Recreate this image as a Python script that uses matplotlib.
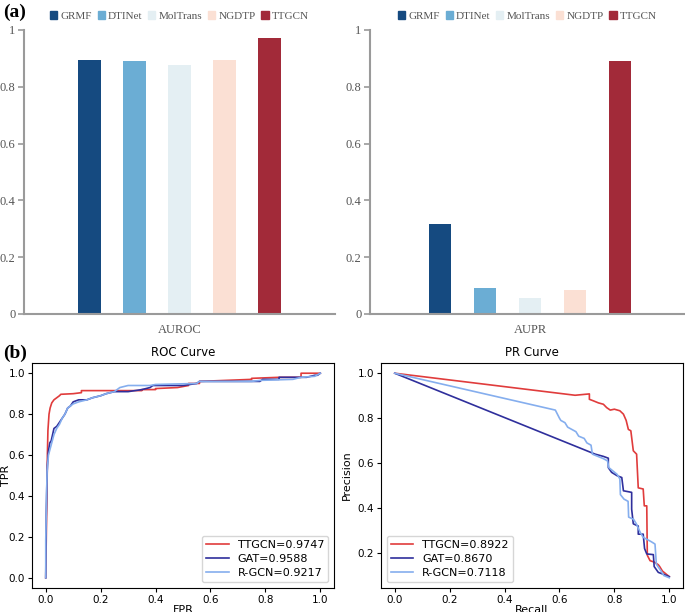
import numpy as np
import matplotlib
matplotlib.use('Agg')
import matplotlib.pyplot as plt
from matplotlib.patches import Patch

# --- data ---
methods = ['GRMF', 'DTINet', 'MolTrans', 'NGDTP', 'TTGCN']
bar_colors = ['#154a80', '#6badd4', '#e4eff3', '#fbe0d4', '#a22a39']
auroc = [0.894, 0.892, 0.878, 0.896, 0.972]
aupr = [0.318, 0.093, 0.057, 0.083, 0.890]

# ROC curves
ttgcn_fpr = [0, 0.003, 0.005, 0.006, 0.008, 0.012, 0.016, 0.022, 0.03, 0.04, 0.05, 0.055, 0.10,
             0.13, 0.13, 0.35, 0.35, 0.40, 0.40, 0.48, 0.52, 0.52, 0.56, 0.56, 0.75, 0.75, 0.85,
             0.93, 0.93, 1.0]
ttgcn_tpr = [0, 0.29, 0.45, 0.60, 0.72, 0.80, 0.83, 0.855, 0.87, 0.88, 0.89, 0.897, 0.90,
             0.905, 0.915, 0.915, 0.92, 0.92, 0.925, 0.93, 0.94, 0.95, 0.95, 0.96, 0.97, 0.975, 0.98,
             0.98, 1.0, 1.0]
gat_fpr = [0, 0.002, 0.004, 0.006, 0.01, 0.015, 0.02, 0.025, 0.03, 0.04, 0.05, 0.06, 0.07, 0.08,
           0.09, 0.10, 0.12, 0.15, 0.17, 0.20, 0.22, 0.25, 0.30, 0.35, 0.38, 0.39, 0.50, 0.55, 0.56,
           0.78, 0.79, 0.85, 0.85, 0.95, 0.98, 0.99, 1.0]
gat_tpr = [0, 0.30, 0.45, 0.55, 0.62, 0.66, 0.67, 0.70, 0.73, 0.74, 0.76, 0.78, 0.80, 0.83,
           0.84, 0.86, 0.87, 0.87, 0.88, 0.89, 0.90, 0.91, 0.91, 0.92, 0.93, 0.94, 0.94, 0.95, 0.96,
           0.96, 0.97, 0.97, 0.98, 0.98, 0.99, 0.99, 1.0]
rgcn_fpr = [0, 0, 0.003, 0.005, 0.01, 0.02, 0.03, 0.04, 0.05, 0.06, 0.07, 0.08, 0.10, 0.12,
            0.15, 0.17, 0.20, 0.22, 0.25, 0.27, 0.30, 0.38, 0.40, 0.55, 0.56, 0.75, 0.78, 0.90,
            0.93, 0.98, 1.0]
rgcn_tpr = [0, 0.18, 0.40, 0.52, 0.60, 0.65, 0.70, 0.73, 0.75, 0.78, 0.80, 0.83, 0.85, 0.86,
            0.87, 0.88, 0.89, 0.90, 0.91, 0.93, 0.94, 0.94, 0.945, 0.95, 0.96, 0.96, 0.965, 0.97,
            0.98, 0.985, 1.0]

# PR curves
ttgcn_rec = [0, 0.657, 0.709, 0.709, 0.724, 0.742, 0.76, 0.772, 0.785, 0.80, 0.82, 0.833, 0.843,
             0.851, 0.86, 0.869, 0.881, 0.887, 0.905, 0.909, 0.918, 0.92, 0.93, 0.945, 0.96, 0.965,
             0.975, 0.99, 1.0]
ttgcn_prec = [1.0, 0.902, 0.908, 0.884, 0.877, 0.868, 0.862, 0.847, 0.836, 0.84, 0.833, 0.818, 0.79,
              0.75, 0.744, 0.655, 0.64, 0.49, 0.485, 0.41, 0.41, 0.19, 0.166, 0.16, 0.148, 0.14,
              0.12, 0.105, 0.095]
gat_rec = [0, 0.73, 0.76, 0.778, 0.778, 0.79, 0.81, 0.827, 0.833, 0.863, 0.863, 0.869, 0.887,
           0.887, 0.905, 0.91, 0.918, 0.942, 0.945, 0.96, 0.98, 1.0]
gat_prec = [1.0, 0.64, 0.63, 0.622, 0.58, 0.559, 0.544, 0.536, 0.477, 0.47, 0.395, 0.33, 0.32,
            0.284, 0.284, 0.22, 0.196, 0.193, 0.14, 0.114, 0.105, 0.095]
rgcn_rec = [0, 0.585, 0.60, 0.605, 0.62, 0.63, 0.645, 0.66, 0.67, 0.69, 0.70, 0.715, 0.72, 0.74,
            0.76, 0.775, 0.78, 0.80, 0.81, 0.82, 0.822, 0.835, 0.85, 0.852, 0.87, 0.88, 0.895,
            0.905, 0.92, 0.935, 0.948, 0.953, 0.97, 0.98, 1.0]
rgcn_prec = [1.0, 0.836, 0.80, 0.79, 0.78, 0.76, 0.75, 0.74, 0.72, 0.71, 0.69, 0.68, 0.64, 0.63,
             0.62, 0.61, 0.58, 0.56, 0.55, 0.53, 0.46, 0.44, 0.43, 0.36, 0.35, 0.33, 0.29,
             0.27, 0.26, 0.25, 0.24, 0.15, 0.12, 0.10, 0.09]

roc_labels = ['TTGCN=0.9747', 'GAT=0.9588', 'R-GCN=0.9217']
pr_labels = ['TTGCN=0.8922', 'GAT=0.8670', 'R-GCN=0.7118']
line_colors = ['#e03c3c', '#2f2f9c', '#85aeee']

W, H = 685, 612
fig = plt.figure(figsize=(W / 100, H / 100), dpi=100)


def px_axes(x0, y0, x1, y1):
    # pixel box (top-left origin) -> figure axes
    return fig.add_axes([x0 / W, 1 - y1 / H, (x1 - x0) / W, (y1 - y0) / H])


serif = ['Liberation Serif', 'DejaVu Serif']
gray = '#555555'
spine_gray = '#9a9a9a'
step = 0.2
bw = 0.098
offsets = [(i - 2) * step for i in range(5)]


def bar_panel(ax, vals, name, xlim, anchor_x):
    for off, v, c in zip(offsets, vals, bar_colors):
        ax.bar(off, v, width=bw, color=c)
    ax.set_xlim(*xlim)
    ax.set_ylim(0, 1)
    ax.set_xticks([0])
    ax.set_xticklabels([name], fontfamily=serif, fontsize=9, color=gray)
    ax.tick_params(axis='x', length=0, pad=7)
    ax.set_yticks([0, 0.2, 0.4, 0.6, 0.8, 1])
    ax.set_yticklabels(['0', '0.2', '0.4', '0.6', '0.8', '1'], fontfamily=serif,
                       fontsize=9, color=gray)
    ax.tick_params(axis='y', length=4, width=1.2, color=spine_gray, pad=2)
    for s in ['top', 'right']:
        ax.spines[s].set_visible(False)
    for s in ['left', 'bottom']:
        ax.spines[s].set_color(spine_gray)
        ax.spines[s].set_linewidth(1.5)
    handles = [Patch(color=c, label=m) for m, c in zip(methods, bar_colors)]
    leg = ax.legend(handles=handles, ncol=5, frameon=False, loc='lower center',
                    bbox_to_anchor=(anchor_x, 1.005), prop={'family': serif, 'size': 8},
                    handlelength=0.65, handleheight=0.65, handletextpad=0.3,
                    columnspacing=0.5, borderaxespad=0.3)
    for t in leg.get_texts():
        t.set_color(gray)


ax1 = px_axes(24, 30, 335, 314)
half = 155.5 / 45 * step
bar_panel(ax1, auroc, 'AUROC', (-half, half), 0.5)

ax2 = px_axes(370, 30, 685, 314)
bar_panel(ax2, aupr, 'AUPR', (-160 / 45 * step, 155 / 45 * step), 0.5)

fig.text(3 / W, 1 - 12 / H, '(a)', fontfamily=serif, fontweight='bold', fontsize=14, va='center')
fig.text(3 / W, 1 - 353 / H, '(b)', fontfamily=serif, fontweight='bold', fontsize=14, va='center')


def curve_panel(ax, curves, labels, title, xlabel, ylabel, loc):
    for (x, y), lab, c in zip(curves, labels, line_colors):
        ax.plot(x, y, color=c, lw=1.2, label=lab)
    ax.set_title(title, fontsize=8.5, pad=5)
    ax.set_xlabel(xlabel, fontsize=8, labelpad=0)
    ax.set_ylabel(ylabel, fontsize=8)
    ax.tick_params(labelsize=7.5, length=3, pad=2)
    ax.legend(loc=loc, fontsize=8, handlelength=2.0, labelspacing=0.35, borderpad=0.4)


ax3 = px_axes(32, 363, 334, 588)
curve_panel(ax3, [(ttgcn_fpr, ttgcn_tpr), (gat_fpr, gat_tpr), (rgcn_fpr, rgcn_tpr)],
            roc_labels, 'ROC Curve', 'FPR', 'TPR', 'lower right')
ax3.yaxis.set_label_coords(-0.07, 0.5)

ax4 = px_axes(381, 363, 683, 588)
curve_panel(ax4, [(ttgcn_rec, ttgcn_prec), (gat_rec, gat_prec), (rgcn_rec, rgcn_prec)],
            pr_labels, 'PR Curve', 'Recall', 'Precision', 'lower left')

fig.savefig('out.png', dpi=100)
